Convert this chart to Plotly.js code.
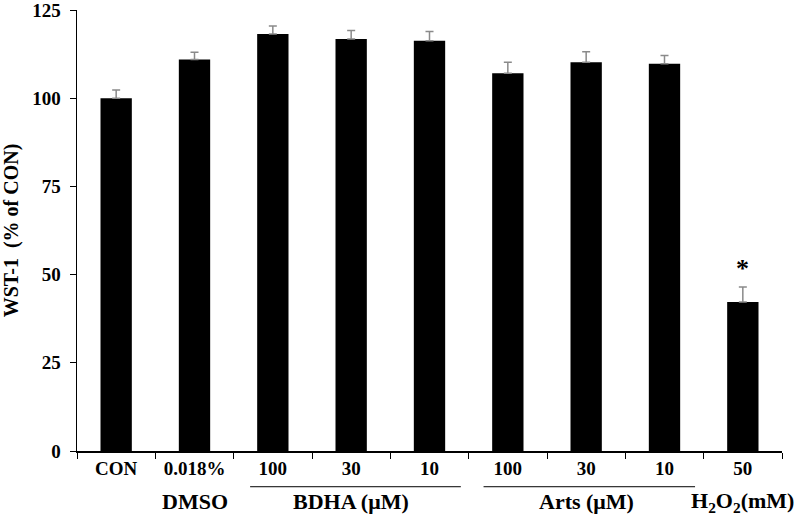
<!DOCTYPE html>
<html>
<head>
<meta charset="utf-8">
<script src="https://cdn.plot.ly/plotly-3.0.1.min.js"></script>
<style>
  html, body { margin: 0; padding: 0; background: #fff; }
  #chart { width: 800px; height: 521px; }
</style>
</head>
<body>
<div id="chart"></div>
<script>
// one entry per bar
const groups = ['CON', 'DMSO', 'BDHA', 'BDHA', 'BDHA', 'Arts', 'Arts', 'Arts', 'H2O2'];
const doses = ['CON', '0.018%', '100', '30', '10', '100', '30', '10', '50'];
const wst1 = [100, 111, 118.2, 116.8, 116.3, 107.1, 110.2, 109.8, 42.2];
const sem = [2.3, 2.0, 2.3, 2.4, 2.6, 3.1, 3.0, 2.3, 4.3];
const yTicks = [0, 25, 50, 75, 100, 125];

// labels under the dose labels
const groupLabels = [
  { text: 'DMSO', at: 1 },
  { text: 'BDHA (μM)', at: 3 },
  { text: 'Arts (μM)', at: 6 },
  { text: 'H<sub>2</sub>O<sub>2</sub>(mM)', at: 8 }
];
// underlines for the dose groups, in bar index units
const groupLines = [[1.71, 4.4], [4.69, 7.39]];

const ids = groups.map((g, i) => g + ' ' + doses[i]);
const serif = 'Liberation Serif, Times New Roman, serif';

const trace = {
  type: 'bar',
  x: ids,
  y: wst1,
  width: 0.4,
  marker: { color: '#000000', line: { width: 0 } },
  error_y: {
    type: 'data',
    symmetric: false,
    array: sem,
    arrayminus: sem.map(() => 0),
    color: '#8a8a8a',
    thickness: 1.5,
    width: 4
  },
  hoverinfo: 'x+y'
};

const annotations = groupLabels.map(g => ({
  text: '<b>' + g.text + '</b>',
  x: ids[g.at], xref: 'x',
  y: -0.115, yref: 'paper',
  yanchor: 'middle',
  showarrow: false,
  font: { family: serif, size: 22, color: '#000' }
}));
annotations.push({
  text: '<b>*</b>',
  x: ids[8], xref: 'x',
  y: wst1[8] + sem[8] + 0.5, yref: 'y',
  yanchor: 'bottom',
  showarrow: false,
  font: { family: serif, size: 26, color: '#000' }
});

const shapes = groupLines.map(l => ({
  type: 'line',
  xref: 'x', yref: 'paper',
  x0: l[0], x1: l[1],
  y0: -0.081, y1: -0.081,
  line: { color: '#000', width: 1 }
}));

const layout = {
  width: 800,
  height: 521,
  margin: { l: 77, r: 18, t: 10, b: 70 },
  paper_bgcolor: '#fff',
  plot_bgcolor: '#fff',
  showlegend: false,
  bargap: 0.6,
  font: { family: serif, color: '#000' },
  xaxis: {
    type: 'category',
    tickvals: ids,
    ticktext: doses.map(d => '<b>' + d + '</b>'),
    tickson: 'boundaries',
    ticks: 'outside',
    ticklen: 6,
    tickcolor: '#000',
    showline: true,
    linecolor: '#000',
    linewidth: 1.5,
    showgrid: false,
    zeroline: false,
    tickfont: { family: serif, size: 19, color: '#000' },
    range: [-0.5, 8.5]
  },
  yaxis: {
    range: [0, 125],
    tickvals: yTicks,
    ticktext: yTicks.map(t => '<b>' + t + '</b>'),
    ticklabeloverflow: 'allow',
    ticks: 'outside',
    ticklen: 6,
    ticklabelstandoff: 5,
    tickcolor: '#000',
    showline: true,
    linecolor: '#000',
    linewidth: 1.5,
    showgrid: false,
    zeroline: false,
    tickfont: { family: serif, size: 19, color: '#000' },
    title: { text: '<b>WST-1  (% of CON)</b>', font: { family: serif, size: 20, color: '#000' }, standoff: 8 }
  },
  annotations: annotations,
  shapes: shapes
};

Plotly.newPlot('chart', [trace], layout, { displayModeBar: false, staticPlot: true });
</script>
</body>
</html>
